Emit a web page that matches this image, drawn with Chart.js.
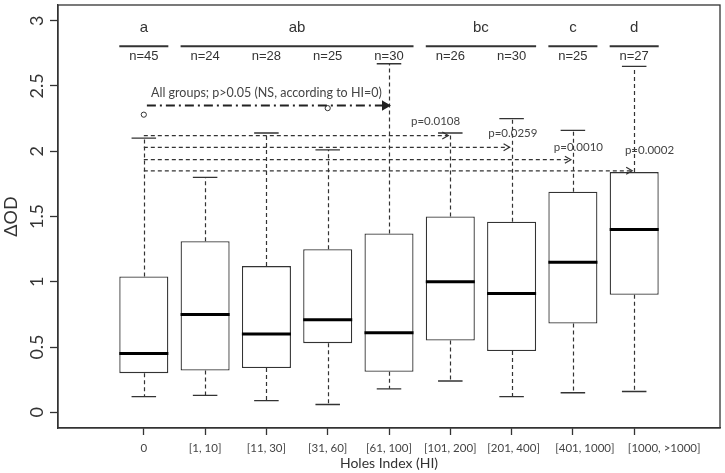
<!DOCTYPE html>
<html>
<head>
<meta charset="utf-8">
<script src="https://cdn.jsdelivr.net/npm/chart.js@4.4.0/dist/chart.umd.min.js"></script>
<style>
  html, body { margin: 0; padding: 0; background: #fff; }
  #wrap { width: 725px; height: 473px; position: relative; }
</style>
</head>
<body>
<div id="wrap"><canvas id="grafica"></canvas></div>
<script>
// Holes Index groups and box statistics
const categories = ['0', '[1, 10]', '[11, 30]', '[31, 60]', '[61, 100]', '[101, 200]', '[201, 400]', '[401, 1000]', '[1000, >1000]'];
const lowerWhisker = [0.12, 0.13, 0.09, 0.06, 0.18, 0.24, 0.12, 0.15, 0.16];
const q1 = [0.30, 0.32, 0.34, 0.53, 0.31, 0.55, 0.47, 0.68, 0.90];
const medians = [0.45, 0.75, 0.60, 0.71, 0.61, 1.00, 0.91, 1.15, 1.40];
const q3 = [1.04, 1.31, 1.12, 1.25, 1.37, 1.50, 1.46, 1.69, 1.84];
const upperWhisker = [2.10, 1.80, 2.14, 2.01, 2.67, 2.14, 2.25, 2.16, 2.65];
const outlierGroups = [1, 4];
const outlierValues = [2.28, 2.33];
const sampleSizes = ['n=45', 'n=24', 'n=28', 'n=25', 'n=30', 'n=26', 'n=30', 'n=25', 'n=27'];

// significance groups
const groupLetters = ['a', 'ab', 'bc', 'c', 'd'];
const groupFirst = [1, 2, 6, 8, 9];
const groupLast = [1, 5, 7, 8, 9];

// comparisons against HI = 0
const nsLabel = 'All groups; p>0.05 (NS, according to HI=0)';
const comparisonTargets = [6, 7, 8, 9];
const comparisonLevels = [2.12, 2.03, 1.935, 1.85];
const pLabels = ['p=0.0108', 'p=0.0259', 'p=0.0010', 'p=0.0002'];
const pLabelX = [5.76, 7.02, 8.09, 9.25];
const pLabelY = [2.227, 2.139, 2.03, 2.006];

const yTicks = [0, 0.5, 1, 1.5, 2, 2.5, 3];

const LETTER_Y = 2.948, GROUP_LINE_Y = 2.804, N_Y = 2.728, NS_TEXT_Y = 2.45, NS_LINE_Y = 2.35;
// the last two x labels sit a bit right of their ticks in the original
const xLabelShift = [0, 0, 0, 0, 0, 0, 2, 12, 30];

function arrowHead(ctx, x, y, filled) {
  ctx.save();
  ctx.setLineDash([]);
  ctx.beginPath();
  ctx.moveTo(x - 6, y - 3.5);
  ctx.lineTo(x, y);
  ctx.lineTo(x - 6, y + 3.5);
  if (filled) { ctx.closePath(); ctx.fill(); }
  ctx.stroke();
  ctx.restore();
}

const boxPlugin = {
  id: 'boxPlugin',
  beforeDatasetsDraw(chart) {
    const {ctx, scales: {x, y}} = chart;
    ctx.save();
    ctx.strokeStyle = '#333';
    ctx.lineWidth = 1.2;
    categories.forEach((c, i) => {
      const px = Math.round(x.getPixelForValue(i + 1)) + 0.5;
      ctx.setLineDash([4, 3]);
      ctx.beginPath();
      ctx.moveTo(px, y.getPixelForValue(q3[i]));
      ctx.lineTo(px, y.getPixelForValue(upperWhisker[i]));
      ctx.moveTo(px, y.getPixelForValue(q1[i]));
      ctx.lineTo(px, y.getPixelForValue(lowerWhisker[i]));
      ctx.stroke();
      ctx.setLineDash([]);
      ctx.lineWidth = 1.4;
      ctx.beginPath();
      [upperWhisker[i], lowerWhisker[i]].forEach(v => {
        const py = y.getPixelForValue(v);
        ctx.moveTo(x.getPixelForValue(i + 0.8), py);
        ctx.lineTo(x.getPixelForValue(i + 1.2), py);
      });
      ctx.stroke();
      ctx.lineWidth = 1.2;
    });
    ctx.restore();
  },
  afterDatasetsDraw(chart) {
    const {ctx, chartArea, scales: {x, y}} = chart;
    ctx.save();
    // medians
    ctx.strokeStyle = '#000';
    ctx.lineWidth = 3;
    categories.forEach((c, i) => {
      const py = y.getPixelForValue(medians[i]);
      ctx.beginPath();
      ctx.moveTo(x.getPixelForValue(i + 0.6), py);
      ctx.lineTo(x.getPixelForValue(i + 1.4), py);
      ctx.stroke();
    });
    // frame
    ctx.strokeStyle = '#333';
    ctx.lineWidth = 1.3;
    ctx.strokeRect(chartArea.left, chartArea.top, chartArea.right - chartArea.left, chartArea.bottom - chartArea.top);

    // x tick labels
    ctx.fillStyle = '#444';
    ctx.textAlign = 'center';
    ctx.textBaseline = 'middle';
    ctx.font = '11.5px Lato';
    categories.forEach((c, i) => {
      ctx.fillText(c, x.getPixelForValue(i + 1) + xLabelShift[i], chartArea.bottom + 20);
    });

    // group letters and lines
    ctx.fillStyle = '#333';
    ctx.font = '15px "Liberation Sans"';
    ctx.lineWidth = 2;
    groupLetters.forEach((g, i) => {
      ctx.fillText(g, x.getPixelForValue((groupFirst[i] + groupLast[i]) / 2), y.getPixelForValue(LETTER_Y));
      const py = y.getPixelForValue(GROUP_LINE_Y);
      ctx.beginPath();
      ctx.moveTo(x.getPixelForValue(groupFirst[i] - 0.4), py);
      ctx.lineTo(x.getPixelForValue(groupLast[i] + 0.4), py);
      ctx.stroke();
    });
    ctx.font = '13px "Liberation Sans"';
    sampleSizes.forEach((n, i) => {
      ctx.fillText(n, x.getPixelForValue(i + 1), y.getPixelForValue(N_Y));
    });

    // NS dash-dot arrow
    ctx.font = '12.5px Lato';
    ctx.fillStyle = '#444';
    ctx.fillText(nsLabel, x.getPixelForValue(3), y.getPixelForValue(NS_TEXT_Y));
    ctx.strokeStyle = '#222';
    ctx.fillStyle = '#222';
    ctx.lineWidth = 2;
    const nsY = y.getPixelForValue(NS_LINE_Y);
    const nsEnd = x.getPixelForValue(5);
    ctx.setLineDash([9, 4, 2, 4]);
    ctx.beginPath();
    ctx.moveTo(x.getPixelForValue(1.05), nsY);
    ctx.lineTo(nsEnd - 2, nsY);
    ctx.stroke();
    arrowHead(ctx, nsEnd, nsY, true);

    // dashed comparison arrows
    ctx.strokeStyle = '#333';
    ctx.lineWidth = 1.2;
    comparisonTargets.forEach((t, i) => {
      const py = y.getPixelForValue(comparisonLevels[i]);
      const end = x.getPixelForValue(t) - 2;
      ctx.setLineDash([4, 3]);
      ctx.beginPath();
      ctx.moveTo(x.getPixelForValue(1), py);
      ctx.lineTo(end, py);
      ctx.stroke();
      arrowHead(ctx, end, py, false);
    });
    ctx.fillStyle = '#444';
    ctx.font = '11.5px Lato';
    pLabels.forEach((p, i) => {
      ctx.fillText(p, x.getPixelForValue(pLabelX[i]), y.getPixelForValue(pLabelY[i]));
    });
    ctx.restore();
  }
};

const ctx = document.getElementById('grafica').getContext('2d');
new Chart(ctx, {
  type: 'bar',
  data: {
    datasets: [
      {
        type: 'scatter',
        data: outlierGroups.map((g, i) => ({x: g, y: outlierValues[i]})),
        pointRadius: 2.6,
        pointBorderWidth: 1,
        pointBorderColor: '#333',
        pointBackgroundColor: '#fff'
      },
      {
        type: 'bar',
        data: categories.map((c, i) => ({x: i + 1, y: [q1[i], q3[i]]})),
        backgroundColor: '#fff',
        borderColor: '#333',
        borderWidth: 1.3,
        borderSkipped: false,
        categoryPercentage: 1,
        barPercentage: 0.8
      }
    ]
  },
  options: {
    responsive: true,
    maintainAspectRatio: false,
    animation: false,
    layout: { padding: { top: 2, right: 2, left: 0, bottom: 0 } },
    plugins: { legend: { display: false }, tooltip: { enabled: false } },
    scales: {
      x: {
        type: 'linear',
        min: -0.4,
        max: 10.4,
        offset: false,
        afterBuildTicks: scale => { scale.ticks = categories.map((c, i) => ({value: i + 1})); },
        afterFit: scale => { scale.height = 45; scale.paddingLeft = 0; scale.paddingRight = 0; },
        grid: { display: true, drawOnChartArea: false, offset: false, tickLength: 7, tickColor: '#333', tickWidth: 1.3 },
        border: { display: true, color: '#333', width: 1.3 },
        ticks: { display: false, autoSkip: false, maxRotation: 0 },
        title: { display: true, text: 'Holes Index (HI)', color: '#333', font: { family: 'Lato', size: 14 }, padding: { top: 0, bottom: 1 } }
      },
      y: {
        min: -0.12,
        max: 3.12,
        afterBuildTicks: scale => { scale.ticks = yTicks.map(v => ({value: v})); },
        afterFit: scale => { scale.width = 58; scale.paddingTop = 0; scale.paddingBottom = 0; },
        grid: { display: true, drawOnChartArea: false, tickLength: 8, tickColor: '#333', tickWidth: 1.3 },
        border: { display: true, color: '#333', width: 1.3 },
        ticks: {
          minRotation: 90, maxRotation: 90, crossAlign: 'center', padding: 0,
          color: '#333', font: { family: 'Lato', size: 18 },
          callback: v => String(v)
        },
        title: { display: true, text: 'ΔOD', color: '#333', font: { family: 'Lato', size: 18 }, padding: { top: 0, bottom: 0 } }
      }
    }
  },
  plugins: [boxPlugin]
});
</script>
</body>
</html>
